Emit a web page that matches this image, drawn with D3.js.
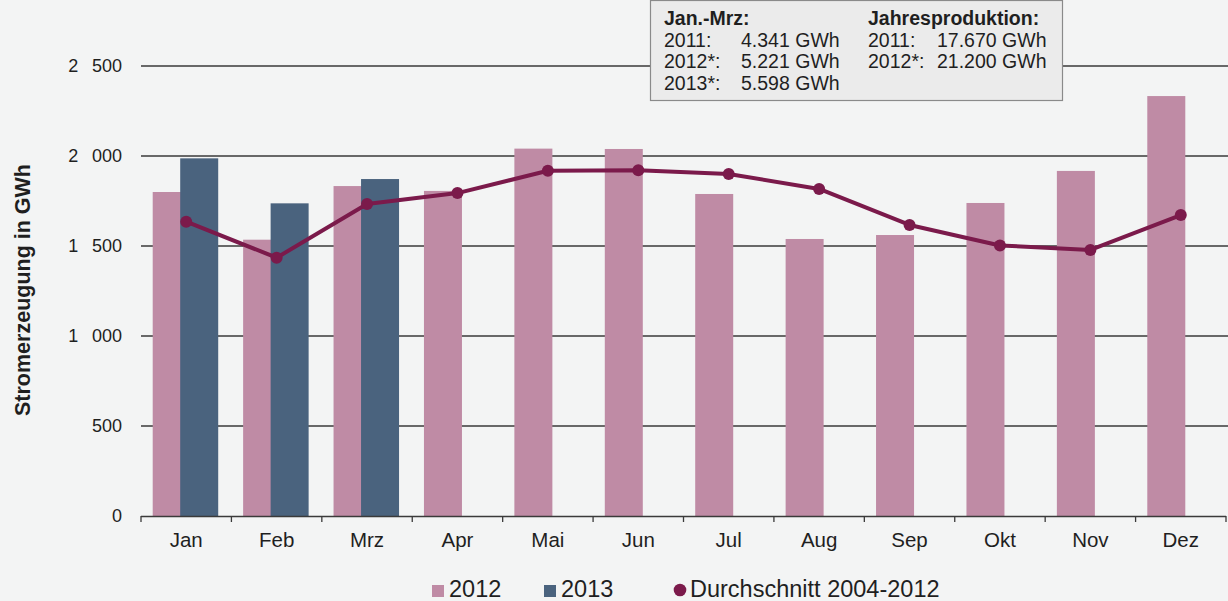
<!DOCTYPE html>
<html><head><meta charset="utf-8">
<script src="https://cdn.jsdelivr.net/npm/d3@7"></script>
<style>
html,body{margin:0;padding:0;background:#f3f4f4;}
svg{display:block;font-family:"Liberation Sans",Arial,sans-serif;}
</style></head>
<body><svg id="c" width="1228" height="601"></svg>
<script>
const months = ["Jan","Feb","Mrz","Apr","Mai","Jun","Jul","Aug","Sep","Okt","Nov","Dez"];
const values2012 = [1800,1535,1833,1806,2041,2039,1789,1539,1561,1739,1917,2333];
const values2013 = [1987,1737,1872,null,null,null,null,null,null,null,null,null];
const avg0412 = [1635,1435,1733,1794,1918,1921,1900,1817,1617,1503,1478,1672];
const yTicks = [0,500,1000,1500,2000,2500];
const legendLabels = ["2012","2013","Durchschnitt 2004-2012"];
const boxLeft = [["Jan.-Mrz:",""],["2011:","4.341 GWh"],["2012*:","5.221 GWh"],["2013*:","5.598 GWh"]];
const boxRight = [["Jahresproduktion:",""],["2011:","17.670 GWh"],["2012*:","21.200 GWh"]];

const C12="#bf8ba5", C13="#4a637e", CL="#7b1a4b", TXT="#1f1f1f";
const svg=d3.select("#c");
const x=d3.scaleBand().domain(months).range([141,1226]).padding(0);
const y=d3.scaleLinear().domain([0,2500]).range([516,66]);
const bw=x.bandwidth();

// gridlines
svg.append("g").selectAll("line").data(yTicks.filter(d=>d>0)).join("line")
 .attr("x1",141).attr("x2",1228).attr("y1",d=>y(d)).attr("y2",d=>y(d))
 .attr("stroke","#3a3a3a").attr("stroke-width",1.3);

// y labels
svg.append("g").selectAll("text").data(yTicks).join("text")
 .attr("x",122).attr("y",d=>y(d)+6).attr("text-anchor","end")
 .attr("font-size",18).attr("fill",TXT)
 .text(d=>d3.format(",")(d).replace(",","\u2007\u2009"));

// bars 2012
svg.append("g").selectAll("rect").data(months).join("rect")
 .attr("x",d=>x(d)+bw/2-33.5).attr("width",38)
 .attr("y",(d,i)=>y(values2012[i])).attr("height",(d,i)=>y(0)-y(values2012[i]))
 .attr("fill",C12);
// bars 2013
svg.append("g").selectAll("rect").data(months.filter((d,i)=>values2013[i]!=null)).join("rect")
 .attr("x",d=>x(d)+bw/2-6).attr("width",38)
 .attr("y",(d)=>y(values2013[months.indexOf(d)])).attr("height",d=>y(0)-y(values2013[months.indexOf(d)]))
 .attr("fill",C13);

// x axis
const xa=svg.append("g");
xa.append("line").attr("x1",141).attr("x2",1226).attr("y1",516.5).attr("y2",516.5).attr("stroke","#3a3a3a").attr("stroke-width",1.3);
const bounds=months.map(m=>x(m)).concat([1226]);
xa.selectAll("line.t").data(bounds).join("line").attr("class","t")
 .attr("x1",d=>d).attr("x2",d=>d).attr("y1",516).attr("y2",522).attr("stroke","#3a3a3a").attr("stroke-width",1.3);
xa.selectAll("text").data(months).join("text")
 .attr("x",d=>x(d)+bw/2).attr("y",547).attr("text-anchor","middle")
 .attr("font-size",20.5).attr("fill",TXT).text(d=>d);

// line
const line=d3.line().x((d,i)=>x(months[i])+bw/2).y(d=>y(d)).curve(d3.curveLinear);
svg.append("path").datum(avg0412).attr("d",line).attr("fill","none").attr("stroke",CL).attr("stroke-width",4).attr("stroke-linejoin","round");
svg.append("g").selectAll("circle").data(avg0412).join("circle")
 .attr("cx",(d,i)=>x(months[i])+bw/2).attr("cy",d=>y(d)).attr("r",6).attr("fill",CL);

// y title
svg.append("text").attr("transform","translate(30,290) rotate(-90)").attr("text-anchor","middle")
 .attr("font-size",21.5).attr("font-weight","bold").attr("fill",TXT).text("Stromerzeugung in GWh");

// info box
const bx=svg.append("g");
bx.append("rect").attr("x",650.5).attr("y",0.5).attr("width",412).attr("height",100).attr("fill","#ebebeb").attr("stroke","#8a8a8a").attr("stroke-width",1.2);
boxLeft.forEach((r,i)=>{
  bx.append("text").attr("x",664).attr("y",25+i*21.5).attr("font-size",19.5).attr("fill",TXT)
   .attr("font-weight",i===0?"bold":"normal").text(r[0]);
  if(r[1]) bx.append("text").attr("x",741).attr("y",25+i*21.5).attr("font-size",19.5).attr("fill",TXT).text(r[1]);
});
boxRight.forEach((r,i)=>{
  bx.append("text").attr("x",868).attr("y",25+i*21.5).attr("font-size",19.5).attr("fill",TXT)
   .attr("font-weight",i===0?"bold":"normal").text(r[0]);
  if(r[1]) bx.append("text").attr("x",937).attr("y",25+i*21.5).attr("font-size",19.5).attr("fill",TXT).text(r[1]);
});

// legend
const lg=svg.append("g");
lg.append("rect").attr("x",432).attr("y",585).attr("width",12).attr("height",12).attr("fill",C12);
lg.append("text").attr("x",449).attr("y",597).attr("font-size",23.5).attr("fill",TXT).text(legendLabels[0]);
lg.append("rect").attr("x",544).attr("y",585).attr("width",12).attr("height",12).attr("fill",C13);
lg.append("text").attr("x",561).attr("y",597).attr("font-size",23.5).attr("fill",TXT).text(legendLabels[1]);
lg.append("circle").attr("cx",680).attr("cy",590).attr("r",6.3).attr("fill",CL);
lg.append("text").attr("x",690).attr("y",597).attr("font-size",23.5).attr("fill",TXT).text(legendLabels[2]);
</script></body></html>
